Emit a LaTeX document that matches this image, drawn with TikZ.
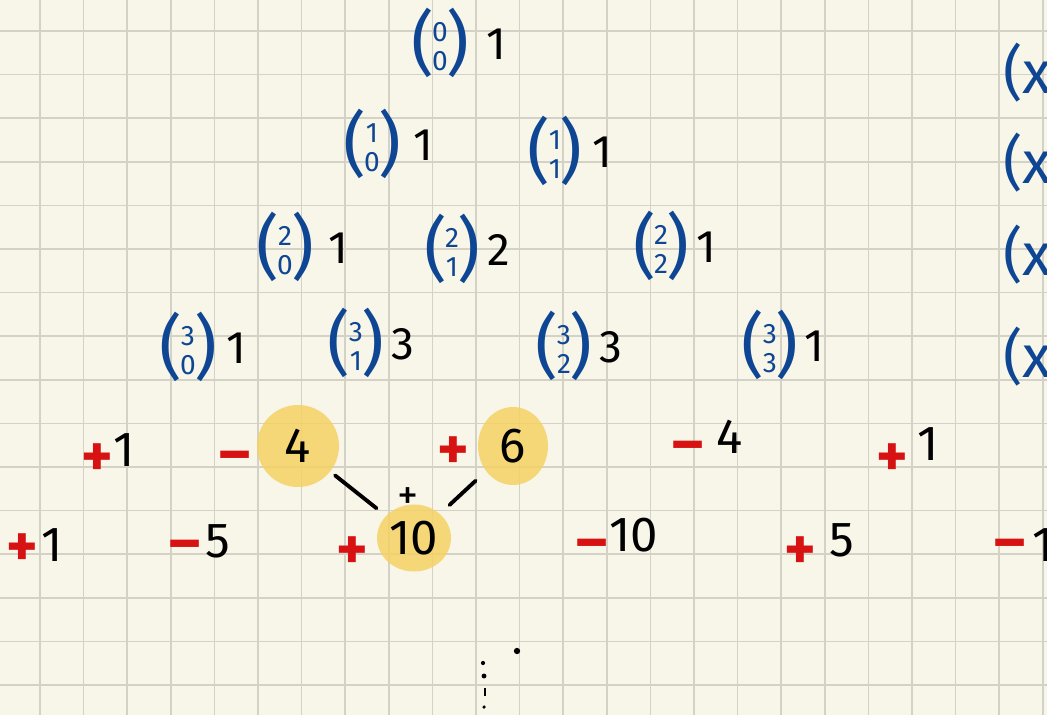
\documentclass[tikz,border=0pt]{standalone}
\usepackage{fix-cm}
\usepackage{amsmath}
\usepackage{fontspec}
\setmainfont{Fira Sans}
\definecolor{paper}{RGB}{248,245,233}
\definecolor{gridgray}{RGB}{212,209,198}
\definecolor{inkblue}{RGB}{14,70,148}
\definecolor{inkred}{RGB}{214,18,18}
\definecolor{marker}{RGB}{245,210,100}
\usetikzlibrary{positioning, shapes.geometric}
\newcommand{\pbin}[2]{(\kern-1pt$\vcenter{\hbox{\fontsize{16}{16}\selectfont
  \begin{tabular}{@{}c@{}}#1\\[1pt]#2\end{tabular}}}$\kern-1pt)}
\tikzset{
  binom/.style={text=inkblue, font=\fontsize{40}{40}\selectfont, inner sep=1pt},
  val/.style={font=\fontsize{26}{28}\selectfont, inner sep=1pt},
  coef/.style={font=\fontsize{28}{30}\selectfont, inner sep=1pt},
  sgn/.style={text=inkred, font=\fontsize{34}{36}\selectfont\bfseries, inner sep=1pt},
  xpow/.style={text=inkblue, font=\fontsize{34}{36}\selectfont, inner sep=0pt},
  hl/.style={ellipse, fill=marker, fill opacity=0.85, text opacity=1},
  tie/.style={line width=2.2pt, line cap=round},
  gridline/.style={draw=gridgray, line width=0.9pt},
}

\begin{document}
\begin{tikzpicture}[x=0.02cm, y=-0.02cm]
  % Paper and grid
  \useasboundingbox (0,0) rectangle (1047,715);
  \fill[paper] (0,0) rectangle (1047,715);
  \clip (0,0) rectangle (1047,715);
  \foreach \i in {0,...,24} {
    \draw[gridline] ({-3.6+43.6*\i},0) -- ({-3.6+43.6*\i},715);
  }
  \foreach \j in {0,...,16} {
    \draw[gridline] (0,{-12.6+43.6*\j}) -- (1047,{-12.6+43.6*\j});
  }

  % Pascal triangle: binomials and values
  \node[binom] (b00) at (440,44) {\pbin{0}{0}};
  \node[val, right=0.26cm of b00] (v00) {1};

  \node[binom] (b10) at (372,145) {\pbin{1}{0}};
  \node[val, right=0.16cm of b10] (v10) {1};
  \node[binom] (b11) at (555,152) {\pbin{1}{1}};
  \node[val, right=0.12cm of b11] (v11) {1};

  \node[binom] (b20) at (285,248) {\pbin{2}{0}};
  \node[val, right=0.2cm of b20] (v20) {1};
  \node[binom] (b21) at (452,250) {\pbin{2}{1}};
  \node[val, right=0.06cm of b21] (v21) {2};
  \node[binom] (b22) at (661,247) {\pbin{2}{2}};
  \node[val, right=0.06cm of b22] (v22) {1};

  \node[binom] (b30) at (188,348) {\pbin{3}{0}};
  \node[val, right=0.1cm of b30] (v30) {1};
  \node[binom] (b31) at (356,344) {\pbin{3}{1}};
  \node[val, right=0.06cm of b31] (v31) {3};
  \node[binom] (b32) at (564,347) {\pbin{3}{2}};
  \node[val, right=0.06cm of b32] (v32) {3};
  \node[binom] (b33) at (770,346) {\pbin{3}{3}};
  \node[val, right=0.04cm of b33] (v33) {1};

  % Right margin (cut off)
  \node[xpow, anchor=west] (x0) at (1003,73) {(x};
  \node[xpow, anchor=west] (x1) at (1003,163) {(x};
  \node[xpow, anchor=west] (x2) at (1003,255) {(x};
  \node[xpow, anchor=west] (x3) at (1003,357) {(x};

  % Signed row 4
  \node[sgn] (s41) at (97,460) {+};
  \node[coef] (n41) at (124,450) {1};
  \node[sgn] (s42) at (235,462) {–};
  \node[coef, hl, minimum width=1.64cm, minimum height=1.64cm] (n42) at (298,446) {4};
  \node[sgn] (s43) at (453,453) {+};
  \node[coef, hl, minimum width=1.4cm, minimum height=1.56cm] (n43) at (513,446) {6};
  \node[sgn] (s44) at (688,452) {–};
  \node[coef] (n44) at (730,437) {4};
  \node[sgn] (s45) at (892,460) {+};
  \node[coef] (n45) at (928,444) {1};

  % Signed row 5
  \node[sgn] (s51) at (22,550) {+};
  \node[coef] (n51) at (52,545) {1};
  \node[sgn] (s52) at (185,551) {–};
  \node[coef] (n52) at (218,541) {5};
  \node[sgn] (s53) at (352,553) {+};
  \node[coef, hl, minimum width=1.36cm, minimum height=1.34cm] (n53) at (414,538) {10};
  \node[sgn] (s54) at (592,550) {–};
  \node[coef] (n54) at (634,535) {10};
  \node[sgn] (s55) at (800,553) {+};
  \node[coef] (n55) at (842,540) {5};
  \node[sgn] (s56) at (1010,550) {–};
  \node[coef] (n56) at (1043,545) {1};

  % Sum 4 + 6 = 10
  \draw[tie, shorten <=0.12cm, shorten >=0.24cm] (n42) -- (n53);
  \draw[tie, shorten <=0.28cm, shorten >=0.26cm] (n43) -- (n53);
  \node[font=\fontsize{24}{26}\selectfont] (plus) at (408,499) {+};

  % Dots
  \fill (517,651) circle (1.8pt);
  \fill (483,663) circle (1.2pt);
  \fill (484,676) circle (1.4pt);
  \draw[line width=1.5pt] (485,688) -- (485,696);
  \fill (484,707) circle (1pt);
\end{tikzpicture}
\end{document}
